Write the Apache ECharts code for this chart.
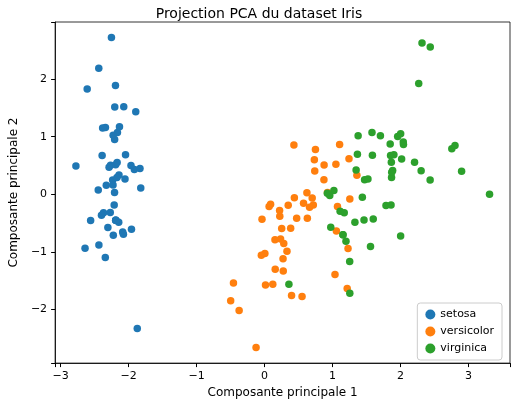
<!DOCTYPE html><html><head><meta charset="utf-8"><script src="https://cdn.jsdelivr.net/npm/echarts@6/dist/echarts.min.js"></script></head><body style="margin:0"><div id="c" style="width:518px;height:404px"></div><script>
const setosa=[[-2.2645,0.5057],[-2.0864,-0.6554],[-2.3680,-0.3185],[-2.3042,-0.5754],[-2.3888,0.6748],[-2.0705,1.5185],[-2.4457,0.0746],[-2.2338,0.2476],[-2.3420,-1.0951],[-2.1887,-0.4486],[-2.1635,1.0706],[-2.3274,0.1586],[-2.2241,-0.7091],[-2.6397,-0.9383],[-2.1923,1.8900],[-2.2515,2.7224],[-2.2028,1.5138],[-2.1902,0.5143],[-1.8941,1.4311],[-2.3399,1.1580],[-1.9146,0.4305],[-2.2046,0.9525],[-2.7742,0.4895],[-1.8204,0.1068],[-2.2282,0.1622],[-1.9570,-0.6079],[-2.0521,0.2660],[-2.1682,0.5520],[-2.1403,0.3366],[-2.2688,-0.3149],[-2.1446,-0.4839],[-1.8319,0.4453],[-2.6082,1.8285],[-2.4380,2.1854],[-2.1887,-0.4486],[-2.2111,-0.1843],[-2.0444,0.6850],[-2.1887,-0.4486],[-2.4360,-0.8822],[-2.1705,0.2927],[-2.2865,0.4680],[-1.8717,-2.3277],[-2.5578,-0.4538],[-1.9643,0.4974],[-2.1334,1.1714],[-2.0754,-0.6919],[-2.3813,1.1521],[-2.3982,-0.3624],[-2.2268,1.0255],[-2.2060,0.0322]];
const versicolor=[[1.1040,0.8631],[0.7325,0.5986],[1.2421,0.6148],[0.3973,-1.7582],[1.0726,-0.2118],[0.3845,-0.5911],[0.7487,0.7787],[-0.4979,-1.8489],[0.9262,0.0303],[0.0050,-1.0294],[-0.1247,-2.6581],[0.4387,-0.0589],[0.5516,-1.7726],[0.7172,-0.1854],[-0.0373,-0.4328],[0.8759,0.5100],[0.3480,-0.1906],[0.1534,-0.7907],[1.2153,-1.6334],[0.1569,-1.3033],[0.7383,0.4025],[0.4724,-0.4166],[1.2280,-0.9409],[0.6294,-0.4168],[0.7005,-0.0635],[0.8735,0.2507],[1.2542,-0.0826],[1.3582,0.3288],[0.6621,-0.2243],[-0.0473,-1.0572],[0.1215,-1.5636],[0.0141,-1.5734],[0.2360,-0.7759],[1.0567,-0.6369],[0.2214,-0.2808],[0.4318,0.8551],[1.0494,0.5222],[1.0361,-1.3925],[0.0671,-0.2126],[0.2754,-1.3298],[0.2723,-1.1194],[0.6232,0.0275],[0.3300,-0.9889],[-0.3736,-2.0179],[0.2829,-0.8540],[0.0891,-0.1749],[0.2244,-0.3805],[0.5739,-0.1537],[-0.4570,-1.5395],[0.2522,-0.5959]];
const virginica=[[1.8477,0.8717],[1.1532,-0.7013],[2.2063,0.5545],[1.4387,-0.0500],[1.8679,0.2912],[2.7542,0.7884],[0.3584,-1.5601],[2.3030,0.4095],[2.0017,-0.7239],[2.2676,1.9214],[1.3659,0.6939],[1.5986,-0.4282],[1.8843,0.4143],[1.2521,-1.1674],[1.4630,-0.4449],[1.5865,0.6770],[1.4713,0.2532],[2.4373,2.5566],[3.3091,0.0024],[1.2541,-1.7176],[2.0405,0.9074],[0.9739,-0.5712],[2.8981,0.3978],[1.3292,-0.4868],[1.7042,1.0141],[1.9577,1.0033],[1.1719,-0.3189],[1.0198,0.0655],[1.7860,-0.1933],[1.8648,0.5554],[2.4355,0.2467],[2.3161,2.6262],[1.8604,-0.1847],[1.1113,-0.2960],[1.1975,-0.8172],[2.8009,0.8447],[1.5802,1.0725],[1.3470,0.4223],[0.9234,0.0192],[1.8536,0.6724],[2.0162,0.6104],[1.9023,0.6860],[1.1532,-0.7013],[2.0433,0.8647],[2.0017,1.0486],[1.8705,0.3828],[1.5585,-0.9053],[1.5208,0.2668],[1.3764,1.0164],[0.9593,-0.0223]];
const names=['setosa','versicolor','virginica'];
const colors=['#1f77b4','#ff7f0e','#2ca02c'];
const f='DejaVu Sans';
const ax=(name,min,max,gap,sn)=>({type:'value',min,max,splitNumber:sn,minInterval:1,maxInterval:1,name,nameLocation:'middle',nameGap:gap,nameTextStyle:{fontFamily:f,fontSize:12,color:'#000'},
 axisLine:{show:true,onZero:false,lineStyle:{color:'#000',width:0.8}},axisTick:{show:true,length:4,lineStyle:{color:'#000'}},
 axisLabel:{fontFamily:f,fontSize:11,color:'#000',formatter:v=>Math.abs(v-Math.round(v))<1e-6?String(Math.round(v)).replace('-','−'):''},splitLine:{show:false}});
const c=echarts.init(document.getElementById('c'));
c.setOption({animation:false,backgroundColor:'#fff',
 title:{text:'Projection PCA du dataset Iris',left:'center',top:2,textStyle:{fontFamily:f,fontSize:14,fontWeight:'normal',color:'#000'}},
 grid:{left:42,right:8,top:22,bottom:36,show:true,borderColor:'#000',borderWidth:0.8},
 xAxis:ax('Composante principale 1',-3.08,3.61,22,6),
 yAxis:ax('Composante principale 2',-2.93,2.99,28,5),
 legend:{right:16,bottom:44,orient:'vertical',itemWidth:10,itemHeight:10,itemGap:6,padding:[6,8],borderColor:'#ccc',borderWidth:1,borderRadius:3,backgroundColor:'rgba(255,255,255,0.8)',textStyle:{fontFamily:f,fontSize:11,color:'#000'},data:names.map(n=>({name:n,icon:'circle'}))},
 series:[setosa,versicolor,virginica].map((d,i)=>({name:names[i],type:'scatter',data:d,symbolSize:7.5,itemStyle:{color:colors[i],opacity:1}}))
});
</script></body></html>
